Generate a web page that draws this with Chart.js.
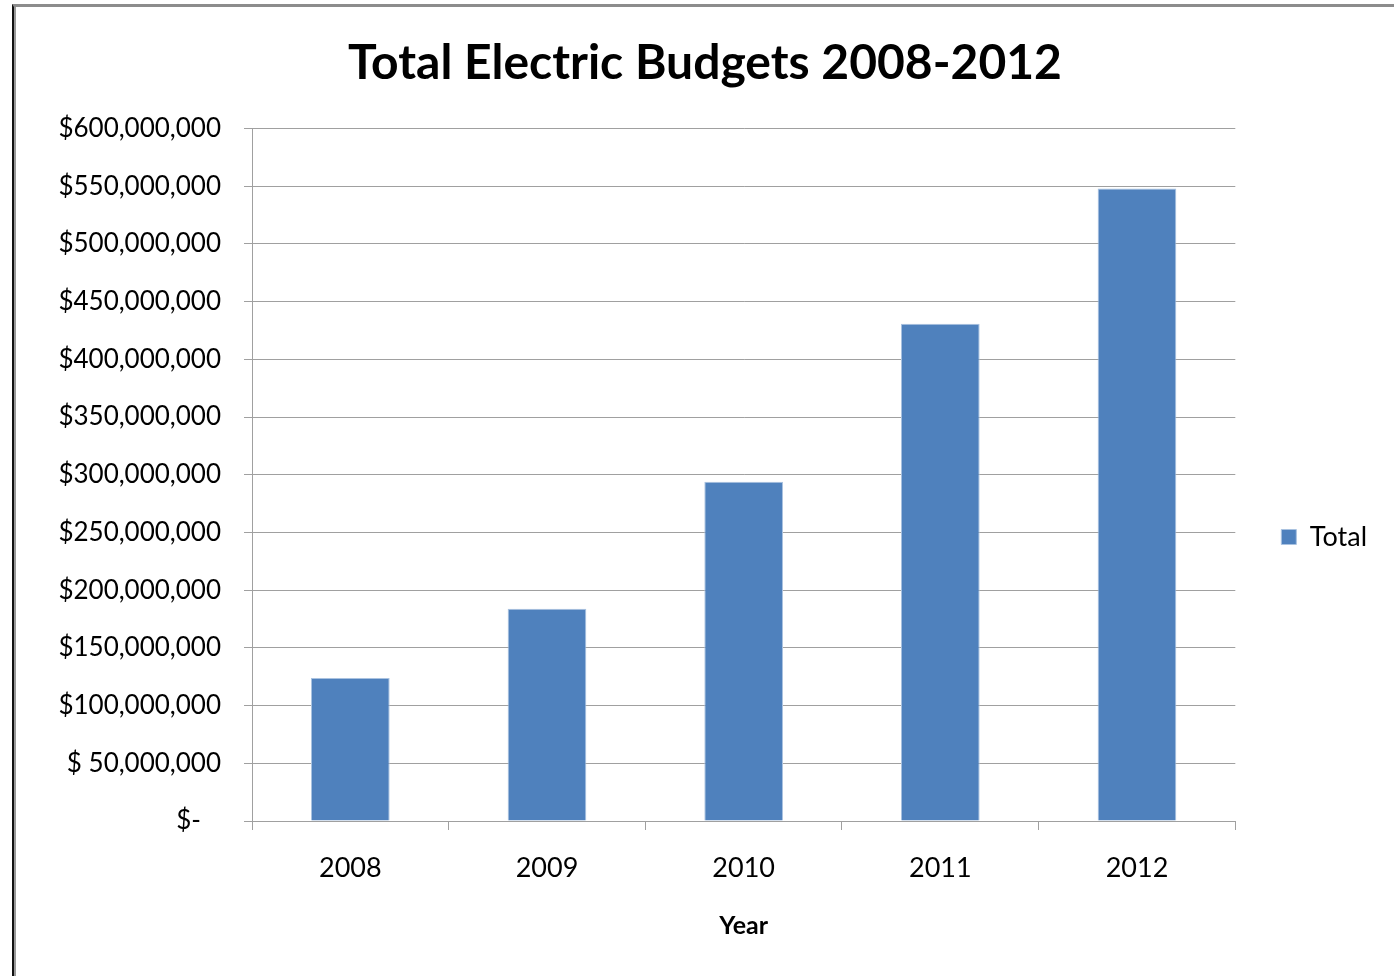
<!DOCTYPE html>
<html lang="en">
<head>
    <meta charset="UTF-8">
    <title>Total Electric Budgets 2008-2012</title>
    <script src="https://cdn.jsdelivr.net/npm/chart.js"></script>
    <style>
        html, body { margin: 0; padding: 0; background: #fff; overflow: hidden; width: 1394px; height: 976px; }
        #wrap { position: absolute; left: 0; top: 0; width: 1394px; height: 1074px; }
        #frame {
            position: absolute; left: 12px; top: 4px; width: 1400px; height: 1000px;
            border-top: 3px solid #8c8c8c; border-left: 2px solid #111;
            box-shadow: inset 2px 0 0 #999; pointer-events: none;
        }
    </style>
</head>
<body>
    <div id="wrap"><canvas id="budgetChart"></canvas></div>
    <div id="frame"></div>

    <script>
        // chart data
        const years = ['2008', '2009', '2010', '2011', '2012'];
        const totals = [124000000, 184000000, 294000000, 431000000, 548000000];
        const yTickLabels = ['$-   ', '$ 50,000,000', '$100,000,000', '$150,000,000', '$200,000,000',
            '$250,000,000', '$300,000,000', '$350,000,000', '$400,000,000', '$450,000,000',
            '$500,000,000', '$550,000,000', '$600,000,000'];

        const gridColor = '#a0a0a0';
        const fontFamily = 'Lato, "Open Sans", sans-serif';

        const ctx = document.getElementById('budgetChart').getContext('2d');
        new Chart(ctx, {
            type: 'bar',
            data: {
                labels: years,
                datasets: [{
                    label: 'Total',
                    data: totals,
                    backgroundColor: '#4f81bd',
                    borderColor: '#a9c2e0',
                    borderWidth: 1,
                    barPercentage: 0.4,
                    categoryPercentage: 1
                }]
            },
            options: {
                responsive: true,
                maintainAspectRatio: false,
                animation: false,
                layout: { padding: { top: 0, right: 17, bottom: 0, left: 33 } },
                plugins: {
                    tooltip: { enabled: false },
                    title: {
                        display: true,
                        text: 'Total Electric Budgets 2008-2012',
                        color: '#000',
                        font: { family: fontFamily, size: 48, weight: 'bold', lineHeight: 1.2 },
                        padding: { top: 35, bottom: 36 }
                    },
                    legend: {
                        position: 'right',
                        labels: {
                            color: '#000',
                            boxWidth: 15,
                            boxHeight: 15,
                            padding: 46,
                            font: { family: fontFamily, size: 27 }
                        }
                    }
                },
                scales: {
                    x: {
                        afterFit: (scale) => { scale.height = 253; },
                        grid: {
                            display: true,
                            drawOnChartArea: false,
                            drawTicks: true,
                            tickLength: 9,
                            color: gridColor,
                            offset: true
                        },
                        border: { display: true, color: gridColor, width: 1 },
                        ticks: {
                            color: '#000',
                            padding: 22,
                            font: { family: fontFamily, size: 27 }
                        },
                        title: {
                            display: true,
                            text: 'Year',
                            color: '#000',
                            font: { family: fontFamily, size: 25, weight: 'bold', lineHeight: 1.2 },
                            padding: { top: 0, bottom: 133 }
                        }
                    },
                    y: {
                        min: 0,
                        max: 600000000,
                        afterFit: (scale) => { scale.width = 219; },
                        grid: {
                            color: gridColor,
                            tickLength: 8,
                            lineWidth: 1
                        },
                        border: { display: true, color: gridColor, width: 1 },
                        ticks: {
                            stepSize: 50000000,
                            color: '#000',
                            padding: 23,
                            font: { family: fontFamily, size: 26 },
                            callback: (value, index) => yTickLabels[index]
                        }
                    }
                }
            }
        });
    </script>
</body>
</html>
